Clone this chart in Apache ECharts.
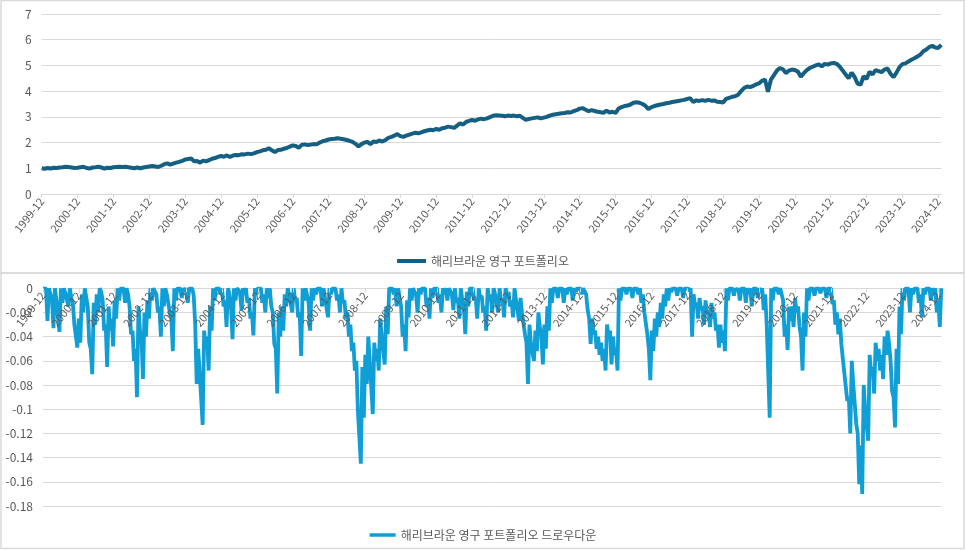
<!DOCTYPE html>
<html>
<head>
<meta charset="utf-8">
<script src="https://cdn.jsdelivr.net/npm/echarts@6/dist/echarts.min.js"></script>
<style>
html, body { margin: 0; padding: 0; background: #fff; }
#main { width: 966px; height: 550px; }
</style>
</head>
<body>
<div id="main"></div>
<script>
// 월별 카테고리: 1999-12 ~ 2025-01
var startYear = 1999, startMonth = 12, monthCount = 302;
var months = [];
for (var k = 0; k < monthCount; k++) {
    var m = startMonth - 1 + k;
    var yy = startYear + Math.floor(m / 12);
    var mm = m % 12 + 1;
    months.push(yy + '-' + (mm < 10 ? '0' + mm : mm));
}

var seriesNames = ['해리브라운 영구 포트폴리오', '해리브라운 영구 포트폴리오 드로우다운'];

// 포트폴리오 가치 (월말, 시작=1)
var portfolio = [1.00,
    0.98,1.01,0.99,1.02,1.01,1.03,1.04,1.06,1.05,1.03,1.01,1.02,   // 2000
    1.04,1.06,1.01,0.99,1.03,1.04,1.06,1.03,0.99,1.02,1.01,1.04,   // 2001
    1.05,1.06,1.05,1.06,1.04,1.02,1.00,1.03,1.00,1.03,1.05,1.07,   // 2002
    1.09,1.07,1.05,1.10,1.16,1.19,1.14,1.18,1.22,1.25,1.29,1.34,   // 2003
    1.36,1.38,1.27,1.28,1.22,1.30,1.27,1.32,1.37,1.40,1.44,1.48,   // 2004
    1.45,1.50,1.44,1.50,1.52,1.51,1.55,1.54,1.57,1.55,1.58,1.63,   // 2005
    1.66,1.70,1.72,1.78,1.70,1.63,1.71,1.72,1.76,1.79,1.84,1.89,   // 2006
    1.87,1.80,1.91,1.93,1.90,1.92,1.94,1.93,2.00,2.05,2.08,2.12,   // 2007
    2.14,2.15,2.17,2.15,2.13,2.10,2.07,2.03,1.95,1.85,1.94,2.00,   // 2008
    2.03,1.94,2.04,2.02,2.08,2.04,2.10,2.18,2.22,2.27,2.33,2.25,   // 2009
    2.22,2.27,2.31,2.35,2.38,2.36,2.40,2.44,2.47,2.50,2.48,2.53,   // 2010
    2.50,2.56,2.58,2.62,2.60,2.57,2.66,2.75,2.70,2.80,2.84,2.88,   // 2011
    2.85,2.90,2.93,2.91,2.94,2.99,3.04,3.06,3.05,3.04,3.02,3.05,   // 2012
    3.03,3.05,3.02,3.04,2.96,2.88,2.92,2.94,2.96,2.98,2.94,2.97,   // 2013
    3.00,3.05,3.08,3.10,3.12,3.14,3.15,3.18,3.17,3.22,3.26,3.32,   // 2014
    3.34,3.28,3.22,3.26,3.23,3.20,3.18,3.16,3.24,3.17,3.20,3.15,   // 2015
    3.32,3.38,3.42,3.44,3.48,3.55,3.57,3.55,3.50,3.43,3.30,3.38,   // 2016
    3.42,3.45,3.48,3.50,3.53,3.55,3.58,3.60,3.62,3.64,3.66,3.70,   // 2017
    3.72,3.58,3.64,3.62,3.65,3.62,3.66,3.63,3.64,3.59,3.58,3.56,   // 2018
    3.70,3.74,3.78,3.80,3.86,4.00,4.12,4.18,4.16,4.20,4.26,4.30,   // 2019
    4.40,4.45,3.98,4.45,4.62,4.80,4.90,4.85,4.70,4.80,4.84,4.82,   // 2020
    4.76,4.56,4.70,4.82,4.90,4.95,5.00,5.04,4.96,5.06,5.03,5.08,   // 2021
    5.10,5.06,4.96,4.80,4.65,4.50,4.72,4.55,4.29,4.25,4.58,4.47,   // 2022
    4.75,4.65,4.82,4.78,4.74,4.84,4.88,4.68,4.54,4.72,4.93,5.05,   // 2023
    5.08,5.15,5.22,5.28,5.35,5.42,5.55,5.62,5.72,5.76,5.70,5.68,   // 2024
    5.80];

// 드로우다운: 월중 최고치 (0에 가장 가까운 값)
var ddHigh = [0,
    0,0,-0.008,0,-0.01,0,0,-0.003,0,-0.012,-0.03,-0.025,                        // 2000
    -0.005,0,-0.015,-0.05,-0.012,-0.005,0,-0.01,-0.03,-0.015,-0.025,-0.01,      // 2001
    0,0,0,0,-0.015,-0.035,-0.05,-0.015,-0.04,-0.02,-0.01,0,                     // 2002
    0,-0.005,-0.015,0,0,-0.005,-0.025,0,0,0,0,0,                                // 2003
    0,0,-0.03,-0.05,-0.07,-0.035,-0.04,-0.015,0,0,0,0,                          // 2004
    -0.01,0,-0.015,0,0,-0.003,0,0,-0.008,-0.02,0,0,                             // 2005
    0,-0.005,0,0,-0.02,-0.05,-0.02,-0.015,-0.005,0,-0.005,0,                    // 2006
    -0.008,-0.02,0,0,-0.012,0,0,0,0,0,-0.008,0,                                 // 2007
    0,0,-0.005,0,-0.01,-0.02,-0.03,-0.045,-0.06,-0.1,-0.065,-0.055,             // 2008
    -0.04,-0.06,-0.045,-0.05,-0.025,-0.04,-0.015,0,0,0,0,-0.015,                // 2009
    -0.03,-0.01,0,0,-0.005,0,0,0,-0.008,0,0,0,                                  // 2010
    -0.005,0,0,0,-0.005,0,-0.008,0,-0.015,-0.003,0,0,                           // 2011
    -0.008,0,-0.006,-0.015,0,-0.005,0,-0.006,0,-0.008,0,-0.003,                 // 2012
    -0.01,0,-0.01,-0.008,-0.02,-0.045,-0.03,-0.045,-0.035,-0.02,-0.04,-0.03,    // 2013
    -0.015,0,0,0,0,0,0,0,0,0,0,0,                                               // 2014
    0,-0.005,-0.025,-0.025,-0.035,-0.04,-0.045,-0.05,-0.03,-0.035,-0.04,-0.05,  // 2015
    0,0,0,0,0,0,0,0,-0.005,-0.02,-0.05,-0.035,                                  // 2016
    -0.025,-0.02,-0.012,-0.005,0,0,0,0,0,0,0,0,                                 // 2017
    0,-0.005,-0.012,-0.008,-0.015,-0.01,-0.018,-0.012,-0.02,-0.03,-0.03,-0.035, // 2018
    0,0,0,0,0,0,0,0,0,0,0,0,                                                    // 2019
    0,-0.005,-0.03,0,0,0,0,-0.01,-0.03,-0.015,-0.015,-0.008,                    // 2020
    -0.015,-0.04,-0.02,0,0,0,0,0,0,0,0,0,                                       // 2021
    -0.01,-0.02,-0.025,-0.045,-0.07,-0.09,-0.06,-0.08,-0.12,-0.13,-0.08,-0.1,   // 2022
    -0.055,-0.065,-0.045,-0.05,-0.055,-0.04,-0.035,-0.06,-0.09,-0.05,-0.015,0,  // 2023
    0,0,0,0,0,-0.005,0,0,0,0,0,-0.01,                                           // 2024
    0];

// 드로우다운: 월중 최저치
var ddLow = [0,
    -0.027,-0.005,-0.033,-0.01,-0.036,-0.012,-0.004,-0.015,-0.008,-0.03,-0.049,-0.045,   // 2000
    -0.02,0,-0.045,-0.071,-0.03,-0.02,-0.003,-0.035,-0.065,-0.035,-0.048,-0.025,         // 2001
    -0.01,0,-0.012,-0.005,-0.038,-0.06,-0.09,-0.035,-0.075,-0.04,-0.025,-0.01,           // 2002
    0,-0.02,-0.04,-0.015,-0.005,-0.02,-0.052,-0.01,0,-0.008,-0.002,-0.012,               // 2003
    0,-0.006,-0.079,-0.07,-0.113,-0.05,-0.068,-0.035,-0.01,0,-0.005,-0.015,              // 2004
    -0.032,-0.005,-0.042,-0.01,0,-0.018,-0.005,-0.012,-0.025,-0.039,-0.005,0,            // 2005
    -0.012,-0.02,-0.008,-0.015,-0.046,-0.087,-0.04,-0.035,-0.015,-0.005,-0.02,-0.01,     // 2006
    -0.024,-0.056,-0.01,0,-0.035,-0.01,-0.005,0,-0.015,-0.008,-0.024,-0.005,             // 2007
    0,-0.01,-0.02,-0.012,-0.025,-0.04,-0.052,-0.068,-0.101,-0.145,-0.107,-0.079,         // 2008
    -0.06,-0.104,-0.06,-0.068,-0.04,-0.063,-0.038,0,-0.005,-0.015,-0.008,-0.04,          // 2009
    -0.052,-0.024,-0.01,-0.003,-0.02,-0.005,0,-0.015,-0.025,-0.008,0,-0.012,             // 2010
    -0.02,-0.005,-0.01,0,-0.018,-0.012,-0.025,-0.01,-0.038,-0.015,0,-0.01,               // 2011
    -0.025,-0.008,-0.02,-0.035,-0.01,-0.02,-0.005,-0.02,-0.012,-0.024,-0.005,-0.015,     // 2012
    -0.024,-0.01,-0.027,-0.02,-0.038,-0.079,-0.046,-0.06,-0.052,-0.032,-0.063,-0.05,     // 2013
    -0.035,-0.012,0,-0.008,0,-0.012,-0.005,0,-0.01,-0.003,0,-0.005,                      // 2014
    0,-0.018,-0.046,-0.038,-0.05,-0.055,-0.06,-0.068,-0.04,-0.063,-0.055,-0.068,         // 2015
    -0.01,0,-0.005,0,-0.008,0,-0.005,-0.012,-0.02,-0.038,-0.076,-0.052,                  // 2016
    -0.04,-0.032,-0.025,-0.015,-0.01,-0.003,0,-0.006,0,-0.008,0,-0.002,                  // 2017
    -0.04,-0.015,-0.025,-0.018,-0.03,-0.022,-0.032,-0.025,-0.035,-0.049,-0.045,-0.052,   // 2018
    -0.01,0,-0.006,-0.002,-0.01,0,-0.012,-0.005,-0.015,0,-0.008,-0.003,                  // 2019
    -0.018,-0.03,-0.107,-0.01,0,-0.005,0,-0.04,-0.051,-0.027,-0.032,-0.02,               // 2020
    -0.032,-0.068,-0.04,-0.01,0,-0.006,0,-0.004,0,-0.008,0,-0.013,                       // 2021
    -0.03,-0.038,-0.046,-0.07,-0.093,-0.12,-0.079,-0.112,-0.162,-0.17,-0.101,-0.126,     // 2022
    -0.071,-0.087,-0.06,-0.068,-0.075,-0.055,-0.046,-0.085,-0.115,-0.079,-0.038,-0.01,   // 2023
    0,-0.02,-0.005,0,-0.012,-0.024,-0.005,0,-0.01,-0.004,-0.02,-0.032,                   // 2024
    0];

// 드로우다운 차트용 반월 카테고리 (월중 최고 -> 최저 순)
var halfMonths = [], drawdown = [];
for (var h = 0; h < months.length; h++) {
    if (h < months.length - 1) {
        halfMonths.push(months[h] + ' a');
        drawdown.push(ddHigh[h]);
    }
    halfMonths.push(months[h] + ' b');
    drawdown.push(ddLow[h]);
}

var font = "'Noto Sans CJK KR', 'Liberation Sans', sans-serif";
var labelColor = '#595959';
var gridColor = '#d9d9d9';

var chart = echarts.init(document.getElementById('main'));
var option = {
    animation: false,
    backgroundColor: '#fff',
    graphic: [
        { type: 'rect', shape: { x: 1, y: 0.5, width: 963, height: 272.5 },
          style: { fill: 'none', stroke: gridColor, lineWidth: 1.5 }, silent: true },
        { type: 'rect', shape: { x: 1, y: 273, width: 963, height: 275.5 },
          style: { fill: 'none', stroke: gridColor, lineWidth: 1.5 }, silent: true }
    ],
    legend: [
        {
            data: [seriesNames[0]], left: 'center', top: 250,
            icon: 'rect', itemWidth: 29, itemHeight: 4, itemGap: 10,
            textStyle: { color: labelColor, fontSize: 12, fontFamily: font }
        },
        {
            data: [seriesNames[1]], left: 'center', top: 524,
            icon: 'rect', itemWidth: 26, itemHeight: 3.5, itemGap: 10,
            textStyle: { color: labelColor, fontSize: 12, fontFamily: font }
        }
    ],
    grid: [
        { left: 41.7, top: 14, width: 899.6, height: 180 },
        { left: 43, top: 288.3, width: 898.3, height: 217.7 }
    ],
    xAxis: [
        {
            type: 'category', gridIndex: 0, data: months, boundaryGap: false,
            axisLine: { lineStyle: { color: gridColor, width: 1 } },
            axisTick: { interval: 11, length: 4, lineStyle: { color: gridColor } },
            axisLabel: { interval: 11, rotate: 52, margin: 5, color: labelColor, fontSize: 11, fontFamily: font },
            splitLine: { show: false }
        },
        {
            // 0 선(차트 상단)에 축을 두고 라벨은 그래프 안쪽에 겹쳐 표시
            type: 'category', gridIndex: 1, data: halfMonths, boundaryGap: false,
            position: 'top', z: 5,
            axisLine: { show: false, onZero: false },
            axisTick: {
                inside: true, length: 4, lineStyle: { color: gridColor },
                interval: function (idx) { return idx % 24 === 0; }
            },
            axisLabel: {
                inside: true, rotate: -52, margin: 5, color: labelColor, fontSize: 11, fontFamily: font,
                interval: function (idx) { return idx % 24 === 0; },
                formatter: function (v) { return v.slice(0, 7); }
            },
            splitLine: { show: false }
        }
    ],
    yAxis: [
        {
            type: 'value', gridIndex: 0, min: 0, max: 7, interval: 1,
            axisLine: { show: false }, axisTick: { show: false },
            axisLabel: { color: labelColor, fontSize: 12, margin: 10, fontFamily: font },
            splitLine: { lineStyle: { color: gridColor, width: 1 } }
        },
        {
            type: 'value', gridIndex: 1, min: -0.18, max: 0, interval: 0.02,
            axisLine: { show: false }, axisTick: { show: false },
            axisLabel: { color: labelColor, fontSize: 12, margin: 10, fontFamily: font },
            splitLine: { lineStyle: { color: gridColor, width: 1 } }
        }
    ],
    series: [
        {
            name: seriesNames[0], type: 'line', xAxisIndex: 0, yAxisIndex: 0,
            data: portfolio, showSymbol: false, symbol: 'none',
            itemStyle: { color: '#156082' },
            lineStyle: { color: '#156082', width: 4 }
        },
        {
            name: seriesNames[1], type: 'line', xAxisIndex: 1, yAxisIndex: 1,
            data: drawdown, showSymbol: false, symbol: 'none',
            itemStyle: { color: '#0F9ED5' },
            lineStyle: { color: '#0F9ED5', width: 3.8 }
        }
    ]
};
chart.setOption(option);
window.addEventListener('resize', function () {
    chart.resize();
});
</script>
</body>
</html>
